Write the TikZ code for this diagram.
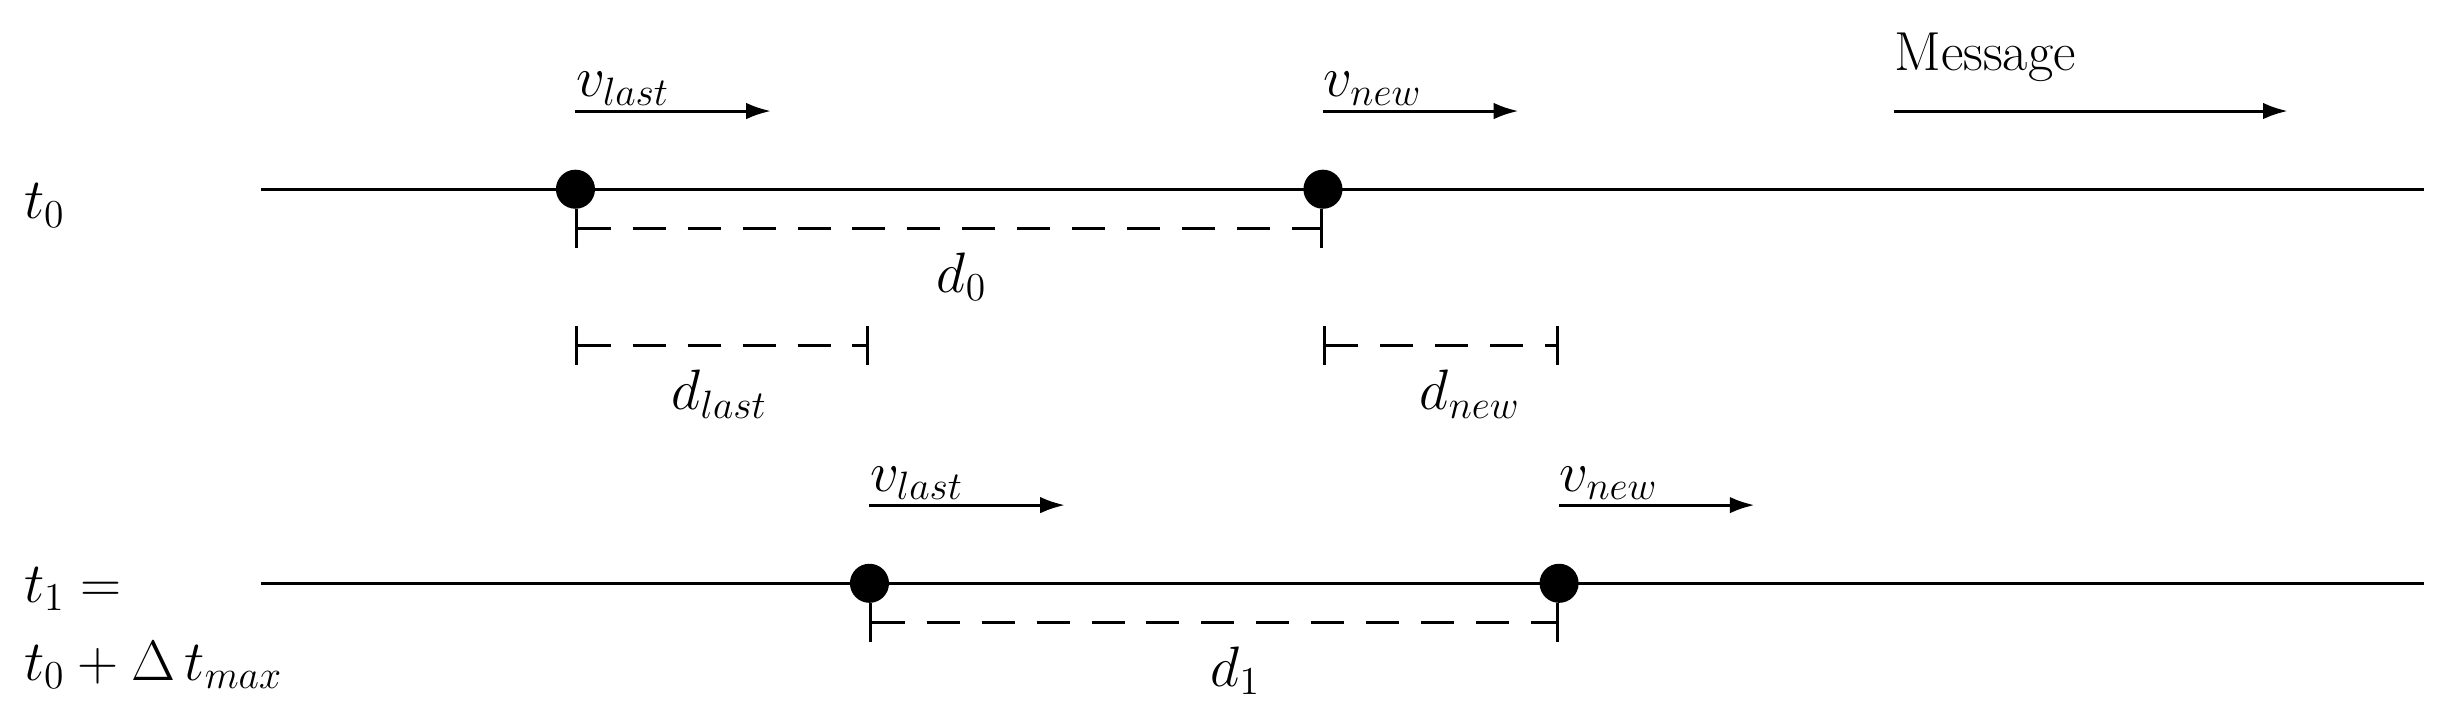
\documentclass[tikz,border=0pt]{standalone}
\usetikzlibrary{arrows.meta}
\begin{document}
\begin{tikzpicture}[x=0.02cm,y=-0.02cm,font=\fontsize{20}{24}\selectfont,
  ln/.style={line width=1.1pt},
  dot/.style={circle,fill=black,inner sep=0pt,minimum size=0.5cm},
  vel/.style={line width=1.1pt,-{Latex[length=9pt,width=6pt]}},
  dist/.style={line width=1.1pt,dash pattern=on 12pt off 8pt,{|[width=14pt]}-{|[width=14pt]}},
  lab/.style={inner sep=0pt,anchor=base west}]
\useasboundingbox (0,0) rectangle (1568,460);
% t0 line
\coordinate (a0) at (167,121); \coordinate (b0) at (1550,121);
\draw[ln] (a0) -- (b0);
\node[dot] (p1) at (368,121) {};
\node[dot] (p2) at (846,121) {};
\node[lab] (t0) at (15,140) {$t_0$};
% velocities t0
\coordinate (v1s) at (368,71); \coordinate (v1e) at (493,71);
\draw[vel] (v1s) -- (v1e);
\node[lab] (lv1) at (368,62) {$v_{last}$};
\coordinate (v2s) at (846,71); \coordinate (v2e) at (971,71);
\draw[vel] (v2s) -- (v2e);
\node[lab] (lv2) at (846,62) {$v_{new}$};
\coordinate (ms) at (1211,71); \coordinate (me) at (1463,71);
\draw[vel] (ms) -- (me);
\node[lab] (msg) at (1211,45) {Message};
% d0
\coordinate (d0s) at (368,146); \coordinate (d0e) at (846,146);
\draw[dist] (d0s) -- (d0e);
\node (ld0) at (615,177) {$d_0$};
\coordinate (dls) at (368,221); \coordinate (dle) at (556,221);
\draw[dist] (dls) -- (dle);
\node (ldl) at (460,252) {$d_{last}$};
\coordinate (dns) at (846,221); \coordinate (dne) at (997,221);
\draw[dist] (dns) -- (dne);
\node (ldn) at (940,252) {$d_{new}$};
% t1 line
\coordinate (a1) at (167,373); \coordinate (b1) at (1550,373);
\draw[ln] (a1) -- (b1);
\node[dot] (q1) at (556,373) {};
\node[dot] (q2) at (997,373) {};
\node[lab] (t1) at (15,385) {$t_1 =$};
\node[lab] (t1b) at (15,435) {$t_0 + \Delta\, t_{max}$};
\coordinate (w1s) at (556,323); \coordinate (w1e) at (681,323);
\draw[vel] (w1s) -- (w1e);
\node[lab] (lw1) at (556,314) {$v_{last}$};
\coordinate (w2s) at (997,323); \coordinate (w2e) at (1122,323);
\draw[vel] (w2s) -- (w2e);
\node[lab] (lw2) at (997,314) {$v_{new}$};
\coordinate (d1s) at (556,398); \coordinate (d1e) at (997,398);
\draw[dist] (d1s) -- (d1e);
\node (ld1) at (790,429) {$d_1$};
\end{tikzpicture}
\end{document}
